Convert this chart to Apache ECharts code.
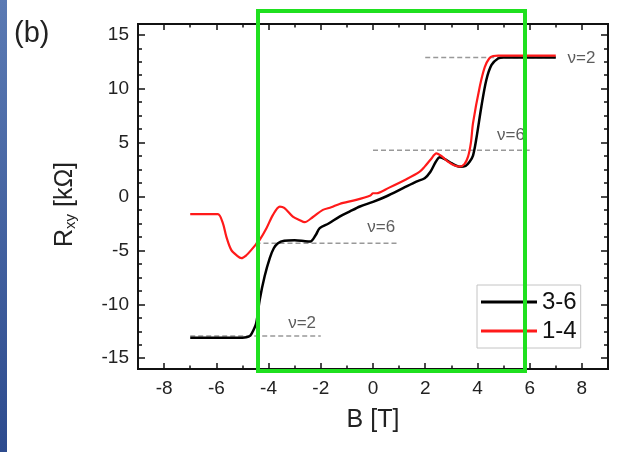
<!DOCTYPE html>
<html>
<head>
<meta charset="utf-8">
<script src="https://cdn.jsdelivr.net/npm/echarts@6/dist/echarts.min.js"></script>
</head>
<body style="margin:0;background:#fff">
<div id="main" style="width:624px;height:452px;"></div>
<script>
// sample 3-6 (black)
var b36 = [-7, -6, -5.2, -4.85, -4.7, -4.6, -4.47, -4.34, -4.15, -3.95, -3.8, -3.64, -3.4, -3.0, -2.6, -2.4, -2.2, -2.04, -1.7, -1.28, -0.9, -0.5, 0, 0.5, 1.15, 1.66, 1.98, 2.2, 2.4, 2.56, 2.8, 3.0, 3.32, 3.55, 3.7, 3.83, 3.96, 4.15, 4.34, 4.54, 4.79, 5.0, 5.5, 6, 7];
var r36 = [-13.1, -13.1, -13.1, -13.05, -12.9, -12.5, -11.7, -9.6, -7.4, -5.7, -4.8, -4.33, -4.1, -4.05, -4.15, -4.18, -3.6, -2.94, -2.5, -1.86, -1.4, -0.93, -0.5, 0.0, 0.77, 1.38, 1.7, 2.3, 3.2, 3.64, 3.4, 3.09, 2.77, 2.85, 3.23, 3.8, 5.4, 8.33, 10.8, 12.2, 12.8, 12.9, 12.9, 12.9, 12.9];
// sample 1-4 (red)
var b14 = [-7, -6.4, -5.94, -5.75, -5.62, -5.43, -5.2, -5.04, -4.85, -4.66, -4.47, -4.34, -4.08, -3.83, -3.57, -3.4, -3.07, -2.8, -2.62, -2.3, -1.92, -1.6, -1.28, -0.64, -0.1, 0, 0.13, 0.6, 1.28, 1.79, 1.98, 2.2, 2.43, 2.65, 2.87, 3.1, 3.32, 3.5, 3.64, 3.75, 3.83, 4.09, 4.28, 4.45, 4.6, 4.8, 5.5, 6, 7];
var r14 = [-1.64, -1.64, -1.64, -2.47, -3.7, -4.95, -5.5, -5.72, -5.45, -4.95, -4.4, -4.02, -2.94, -1.7, -0.93, -1.05, -1.86, -2.2, -2.38, -1.9, -1.24, -1.0, -0.69, -0.31, 0.1, 0.3, 0.3, 0.8, 1.6, 2.3, 2.77, 3.4, 4.0, 3.7, 3.23, 2.9, 2.77, 3.0, 3.7, 5.0, 6.8, 10.2, 12.0, 12.8, 13.03, 13.06, 13.06, 13.06, 13.06];

// plateau guide lines
var guideStart = [2, 0, -4.5, -7];
var guideEnd = [7, 6, 1, -2];
var guideLevel = [12.9, 4.3, -4.33, -12.95];
// filling factor labels
var nuText = ['ν=2', 'ν=6', 'ν=6', 'ν=2'];
var nuB = [7.45, 4.75, -0.22, -3.25];
var nuR = [12.85, 5.7, -2.9, -11.8];

// ticks
var xMajor = [-8, -6, -4, -2, 0, 2, 4, 6, 8];
var xMinor = [-7, -5, -3, -1, 1, 3, 5, 7];
var yMajor = [-15, -10, -5, 0, 5, 10, 15];
var yMinor = [-13.75, -12.5, -11.25, -8.75, -7.5, -6.25, -3.75, -2.5, -1.25, 1.25, 2.5, 3.75, 6.25, 7.5, 8.75, 11.25, 12.5, 13.75];

var font = "'Liberation Sans', Arial, sans-serif";

function zip(a, b) {
    var res = [];
    for (var i = 0; i < a.length; i++) res.push([a[i], b[i]]);
    return res;
}

function xAx(pos, ticks, len, labels) {
    return {
        type: 'value', position: pos, min: -9, max: 9,
        axisLine: { show: true, onZero: false, lineStyle: { color: '#111', width: 1.8 } },
        axisTick: { inside: true, length: len, customValues: ticks, lineStyle: { color: '#111', width: 1.5 } },
        axisLabel: labels ? { customValues: xMajor, margin: 10, fontSize: 19, color: '#222', fontFamily: font } : { show: false },
        splitLine: { show: false }
    };
}
function yAx(pos, ticks, len, labels) {
    return {
        type: 'value', position: pos, min: -16, max: 16,
        axisLine: { show: true, onZero: false, lineStyle: { color: '#111', width: 1.8 } },
        axisTick: { inside: true, length: len, customValues: ticks, lineStyle: { color: '#111', width: 1.5 } },
        axisLabel: labels ? { customValues: yMajor, margin: 9, fontSize: 19, color: '#222', fontFamily: font } : { show: false },
        splitLine: { show: false }
    };
}

var myChart = echarts.init(document.getElementById('main'));

var xAxes = [xAx('bottom', xMajor, 6, true), xAx('bottom', xMinor, 3.5, false), xAx('top', xMajor, 6, false), xAx('top', xMinor, 3.5, false)];
xAxes[0].name = 'B [T]';
xAxes[0].nameLocation = 'middle';
xAxes[0].nameGap = 39;
xAxes[0].nameTextStyle = { fontSize: 25, color: '#222', fontFamily: font };

var yAxes = [yAx('left', yMajor, 7, true), yAx('left', yMinor, 4, false), yAx('right', yMajor, 7, false), yAx('right', yMinor, 4, false)];
yAxes[0].name = 'R{s|xy} [kΩ]';
yAxes[0].nameLocation = 'middle';
yAxes[0].nameGap = 60;
yAxes[0].nameTextStyle = {
    fontSize: 25, color: '#222', fontFamily: font, padding: [0, 16, 0, 0],
    rich: { s: { fontSize: 15, verticalAlign: 'bottom', padding: [9, 0, 0, 0], fontFamily: font, color: '#222' } }
};

var series = [];
for (var i = 0; i < guideStart.length; i++) {
    series.push({
        type: 'line', name: 'guide' + i, silent: true, showSymbol: false, z: 1,
        data: [[guideStart[i], guideLevel[i]], [guideEnd[i], guideLevel[i]]],
        lineStyle: { color: '#999', width: 1.5, type: [5, 3] }
    });
}
var nuData = [];
for (var j = 0; j < nuText.length; j++) nuData.push({ name: nuText[j], value: [nuB[j], nuR[j]] });
series.push({
    type: 'scatter', name: 'nu', symbolSize: 0, silent: true, data: nuData,
    label: { show: true, position: 'right', distance: 0, formatter: '{b}', fontSize: 17, color: '#333', fontFamily: font }
});
series.push({
    type: 'line', name: '3-6', data: zip(b36, r36), smooth: 0.3, showSymbol: false, z: 3,
    lineStyle: { color: '#000', width: 2.5 }, itemStyle: { color: '#000' }
});
series.push({
    type: 'line', name: '1-4', data: zip(b14, r14), smooth: 0.3, showSymbol: false, z: 4,
    lineStyle: { color: '#ff1a1a', width: 2.2 }, itemStyle: { color: '#ff1a1a' }
});

option = {
    animation: false,
    backgroundColor: '#fff',
    grid: { left: 138, right: 16, top: 24, bottom: 83 },
    xAxis: xAxes,
    yAxis: yAxes,
    legend: {
        data: [{ name: '3-6', icon: 'rect' }, { name: '1-4', icon: 'rect' }],
        orient: 'vertical', left: 477, top: 285,
        padding: [5, 4, 5, 4], itemWidth: 56, itemHeight: 3, itemGap: 5,
        backgroundColor: '#fff', borderColor: '#c4c4c4', borderWidth: 1, borderRadius: 0,
        textStyle: { fontSize: 24, color: '#111', fontFamily: font }
    },
    graphic: [
        {
            type: 'rect', left: 0, top: 0, z: 100,
            shape: { width: 7, height: 452 },
            style: { fill: new echarts.graphic.LinearGradient(0, 0, 0, 1, [{ offset: 0, color: '#5b7ab3' }, { offset: 1, color: '#2d4b8e' }]) }
        },
        {
            type: 'text', left: 14, top: 19, z: 100,
            style: { text: '(b)', fontSize: 29, fill: '#222', fontFamily: font }
        },
        {
            type: 'rect', z: 100,
            shape: { x: 258, y: 11, width: 267, height: 360 },
            style: { fill: 'none', stroke: '#1fe01f', lineWidth: 4 }
        }
    ],
    series: series
};

myChart.setOption(option);
</script>
</body>
</html>
